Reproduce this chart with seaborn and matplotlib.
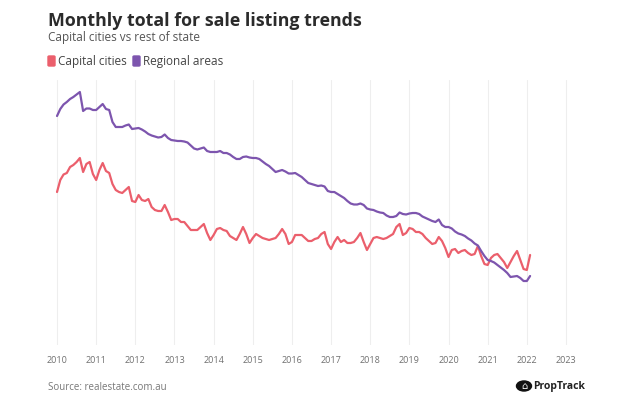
import seaborn as sns
import matplotlib.pyplot as plt
import matplotlib.patches as mpatches
import pandas as pd
import numpy as np

# monthly listings index (arbitrary units, no y axis shown), Jan 2010 - Feb 2022
capital = [158, 170, 175.5, 177, 183, 185, 188, 192, 178, 186, 188, 176,
           170, 180, 187, 179, 177, 166, 160, 158, 157, 160, 163, 149,
           148, 155, 150, 149, 151, 143, 140, 139, 139, 145, 138, 130,
           131, 131, 128, 128, 124, 120, 120, 120, 123, 126, 117, 110,
           115, 121, 122, 120, 119, 114, 112, 110, 116, 123, 116, 107,
           112, 116, 114, 112, 111, 110, 111, 112, 116, 121, 116, 106,
           108, 115, 115, 115, 112, 109, 109, 111, 112, 116, 118, 106,
           101, 108, 113, 108, 110, 107, 107, 108, 112, 117, 108, 100,
           106, 112, 113, 112, 111, 112, 114, 116, 123, 126, 115, 117,
           122, 121, 118, 118, 116, 112, 109, 106, 107, 113, 109, 102,
           93, 100, 101, 97, 99, 100, 97, 95, 96, 104, 94, 86,
           85, 92, 95, 96, 92, 88, 82, 88, 94, 99, 90, 81,
           80, 95]
regional = [234, 241, 245.5, 248, 251, 253, 255.5, 258, 239, 241.5, 241.5, 240,
            240, 243, 246, 241, 240, 228, 223, 223, 223, 224.5, 225.5, 221,
            221.5, 222, 220.5, 218.5, 216, 214.5, 213.5, 212.5, 213, 215.5, 212, 210,
            209.5, 209, 209, 208.5, 207.5, 204.5, 201.5, 200.5, 201.5, 202.5, 199, 198,
            198, 198, 199, 197, 197, 195.5, 193, 191, 191, 193, 193.5, 192.5,
            192, 192, 191, 188.5, 186, 184, 181, 178, 179, 180, 178.5, 176.5,
            176.5, 177, 175, 173, 170, 167, 166, 165, 164, 164.5, 163.5, 159,
            158, 158, 156, 154, 152, 149, 146.5, 145.5, 145.5, 146.5, 145, 141.5,
            140.5, 140, 138.5, 137.5, 137, 134.5, 133, 133, 134, 137.5, 136, 135.5,
            136.5, 137, 137, 136, 133.5, 132, 130.5, 129, 128, 130.5, 125, 123,
            123, 121.5, 118.5, 116.5, 115.5, 114, 111.5, 109.5, 106.5, 104.5, 99, 94,
            90, 89, 87.5, 85, 82.5, 80, 77, 73, 73.5, 74, 72, 69,
            69, 74]
series_names = ["Capital cities", "Regional areas"]
series_colors = ["#EB5F6C", "#7D55AE"]
year_ticks = list(range(2010, 2024))

months = pd.date_range("2010-01-01", periods=len(capital), freq="MS")
t = months.year + (months.month - 1) / 12
df = pd.DataFrame({
    "t": np.concatenate([t, t]),
    "value": capital + regional,
    "series": [series_names[0]] * len(capital) + [series_names[1]] * len(regional),
})

sns.set_style("white")
plt.rcParams["font.family"] = ["Open Sans", "DejaVu Sans"]

fig = plt.figure(figsize=(6.22, 4.16), dpi=100)
ax = fig.add_axes([45 / 622, 71 / 416, 535 / 622, 265 / 416])

sns.lineplot(data=df, x="t", y="value", hue="series",
             palette=dict(zip(series_names, series_colors)),
             linewidth=1.6, legend=False, ax=ax)

ax.set_xlim(2010 - 12 / 39.1, 2023 + 14 / 39.1)
ax.set_ylim(5, 270)
ax.set_xticks(year_ticks)
ax.set_xticklabels([str(y) for y in year_ticks], fontsize=6.5, color="#707070")
ax.set_yticks([])
ax.set_xlabel("")
ax.set_ylabel("")
for x in year_ticks:
    ax.axvline(x, color="#eeeeee", linewidth=0.8, zorder=0)
ax.tick_params(axis="x", length=0, pad=8)
for s in ax.spines.values():
    s.set_visible(False)

# titles
fig.text(48 / 622, 1 - 21 / 416, "Monthly total for sale listing trends",
         fontsize=12.8, fontweight="bold", color="#2b2b2b", va="center")
fig.text(48 / 622, 1 - 37 / 416, "Capital cities vs rest of state",
         fontsize=8.5, color="#555555", va="center")

# legend
lx = [48, 133]
for name, col, x0 in zip(series_names, series_colors, lx):
    fig.patches.append(mpatches.FancyBboxPatch(
        (x0 / 622, 1 - 66 / 416), 7 / 622, 10 / 416,
        boxstyle="round,pad=0,rounding_size=0.002",
        transform=fig.transFigure, color=col))
    fig.text((x0 + 10) / 622, 1 - 61 / 416, name, fontsize=8.5,
             color="#444444", va="center")

# footer
fig.text(48 / 622, 1 - 387 / 416, "Source: realestate.com.au",
         fontsize=7, color="#777777", va="center")
fig.patches.append(mpatches.Circle((524 / 622, 1 - 386 / 416), 7.5 / 622,
                                   transform=fig.transFigure, color="#111111"))
fig.text(524 / 622, 1 - 386 / 416, "\u2302", fontsize=7, color="white",
         ha="center", va="center", family="DejaVu Sans")
fig.text(533 / 622, 1 - 386 / 416, "PropTrack", fontsize=7.5,
         fontweight="bold", color="#222222", va="center")

fig.savefig("out.png", dpi=100)
